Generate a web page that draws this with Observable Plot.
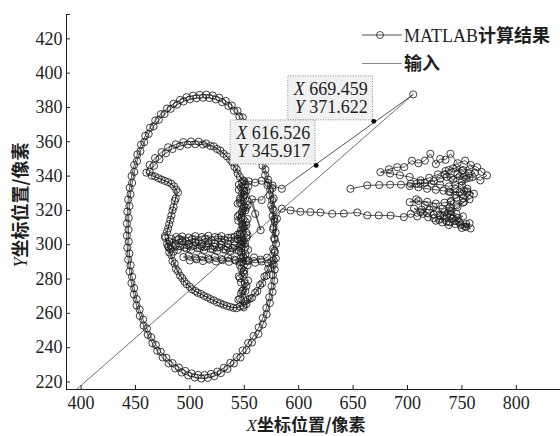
<!DOCTYPE html>
<html><head><meta charset="utf-8">
<script src="https://cdn.jsdelivr.net/npm/d3@7"></script>
<script src="https://cdn.jsdelivr.net/npm/@observablehq/plot@0.6"></script>
<style>
body{margin:0;background:#fff;}
#chart{width:560px;height:436px;}
</style>
</head><body><div id="chart"></div>
<script>
// ---- axis ticks & domain ----
const xTicks = [400, 450, 500, 550, 600, 650, 700, 750, 800];
const yTicks = [220, 240, 260, 280, 300, 320, 340, 360, 380, 400, 420];
const xDomain = [386.6, 840.6];
const yDomain = [215.6, 434.2];

// ---- input series ("输入") ----
const inputX = [396.5, 705.2];
const inputY = [216, 387.6];

// ---- data tips ----
const tipX = [669.459, 616.526];
const tipY = [371.622, 345.917];

// ---- MATLAB result trajectory, in drawing order ----
const segStart = [[705.2,387.6],[584.5,332.6],[576,334.5],[566,326],[557,326.5],[565,308.5],[560,318],[551,335]];
const segInnerArcA = [[546,339.5],[543,344],[539,348],[534,351.5],[528,354.8],[522,357.3],[515,359],[508,360],[501,360.2],[494,359.8],[487,358.5],[480,356.8],[474,354],[468,350.5],[463,346.5],[460,342]];
const segBranchA = [[465,340.2],[471,338.8],[477,337.2],[483,335.5],[487.5,332],[487,327],[485,322],[483,317],[481,312],[479,307.5]];
const segBandA = [[481,302],[487,300.5],[493,301.8],[499,299.8],[505,301.2],[511,299.2],[517,300.8],[523,298.8],[529,300.2],[535,298.2],[541,299.6],[547,298]];
const segVertA = [[549,293],[546,288],[550,283],[547,278],[551,273],[546,268.5],[549,264.5]];
const segLowerArcA = [[543,263],[537,263.8],[531,265],[525,266.5],[519,268.3],[513,270.2],[507,272],[502,274],[497,277],[493,280.5],[489,284.5],[486,289],[483,294],[480,299],[477.5,304]];
const segBandB = [[482,297.5],[489,297],[495,298.2],[501,296.8],[507,298],[513,296.5],[519,297.6],[525,296.2],[531,297.4],[537,295.8],[543,297],[548,301.5]];
const segVertB = [[546,306],[550,310.5],[547,315],[551,320],[546,324.5],[550,329],[547,333.5],[550,337]];
const segInnerArcB = [[544,341.5],[541,345.5],[537,349.5],[531,353],[525,355.8],[519,357.6],[512,358.4],[505,358.6],[498,358.4],[491,357.5],[484,355.8],[478,353.3],[472,349.8],[467,346],[463,342.5]];
const segBranchB = [[468,339.8],[474,338],[480,336.5],[485.5,334],[489,330.5],[486,325.5],[484,320],[482,314.5],[480,309.5],[477,305]];
const segLowerArcB = [[479,300.5],[481,295.5],[484,290.5],[487,286],[491,282],[495,278.5],[500,275.5],[505,273],[510,271.3],[516,269.3],[522,267.5],[528,265.8],[534,264.3],[540,263.2],[546,264]];
const segVertC = [[551,267],[547,271.5],[552,276],[546,280.5],[550,285],[545.5,290],[551,294.5],[546,299.5],[552,304],[547,308.5],[551.5,313],[545.5,317.5],[550,322],[546,327],[552,331.5],[548,336.5]];
const segVertD = [[545,332],[549,327.5],[553,323],[548,318.5],[544.5,314],[549,309.5],[553,305.5]];
const segBandD = [[547,300.5],[541,301.8],[535,300.5],[529,302],[523,300.6],[517,302],[511,300.4],[505,301.8],[499,300.5],[493,302.2],[487,299.5],[483,303.5],[487.5,304.5],[493,304.8],[499,304.2],[505,305],[511,304.5],[517,305.2],[523,304.5],[529,305],[535,304],[541,304.6],[547,303.8]];
const segBandC = [[544,303.5],[538,304.2],[532,302.8],[526,304],[520,302.5],[514,303.6],[508,302.2],[502,303.4],[496,302],[490,303.5],[484,301],[480.5,298.5],[485,296],[491,299],[497,297.8],[503,299.5],[509,298],[515,299.2],[521,297.5],[527,298.6],[533,297],[539,298.2],[545,296.5],[551,298.8]];
const segVertE = [[547,302.5],[552,307],[548,312],[544,316.5],[549,321],[553,325.5],[548,330],[545,335]];
const segVertF = [[550,331.5],[546.5,326],[551.5,321.5],[547.5,316],[552,311.5],[546,306.5],[550.5,301],[547,295.5],[552,290.5],[547.5,286],[545,281.5],[550.5,277.5],[548,273],[544.5,268],[549.5,263.5],[553,268],[549,273.5],[553.5,279],[549,284],[553,288],[549,292.5],[553.5,297],[549,301.5],[544,306],[548.5,311],[553,315],[548,319.5],[544,324],[549.5,329],[553.5,334],[549,337.5]];
const segBoxTop = [[554,337],[560,336.2],[566,337.3],[572,336],[576,333]];
const segBoxRight = [[577,327],[576,321],[577.5,315],[576.5,309],[578,303],[576.5,297.5]];
const segLowerBandA = [[571,292.5],[565,291.3],[559,292.6],[553,291],[547,292.4],[541,291.3],[535,292.7],[529,291.6],[523,293],[517,292],[511,293.3],[505,292.3],[499,293.6],[494,292.8]];
const segLowerBandB = [[500,290.8],[506,291.5],[512,290.5],[518,291.3],[524,290.2],[530,291],[536,290],[542,290.8],[548,289.8],[554,290.5],[560,289.5],[566,290.2],[572,289.3],[577,291]];
const segLowerRight = [[574,286.5],[570.5,282],[566.5,277.5],[562,273],[557,269],[552,265.5],[555,268.5],[560,272],[564.5,276.5],[568.5,281.5],[572,286],[575,290.5],[578,295.5]];
const segOuterA = [[579,292],[578,285.5],[577.5,279],[576,272.5],[573.5,266],[570.5,259.5],[567,253.5],[563,248],[557,243],[552,238.5],[546.5,234.3],[540.5,230.8],[534.5,227.6],[528.5,225.2],[522.5,223.4],[516.5,222.4],[510.5,222],[504.5,222.6],[498.5,223.8],[492.5,225.5],[486.5,227.9],[480.5,230.8],[475,234.3],[470,238.2],[465.5,242.6],[461.3,247.5],[457.5,252.8],[454,258.5],[451,264.6],[448.5,271],[446.3,277.6],[444.6,284.4],[443.3,291.3],[442.5,298.3],[442.1,305.3],[442.1,312.3],[442.5,319.3],[443.3,326.3],[444.6,333.2],[446.4,340],[448.8,346.5],[451.7,352.6],[455.1,358.3],[459,363.5],[463.4,368.2],[468.2,372.4],[473.4,376.1],[479,379.4],[485,382.2],[491,384.4],[497,386],[503,386.9],[509,387.3],[515,387.5],[521,387],[527,385.7],[533,383.8],[538.5,381.2],[543.8,378],[548.6,374.2],[553,370],[557,365.3],[560.6,360.3],[563.8,355],[566.8,349.5],[569.4,343.8],[571.8,338],[573.8,332],[575.6,326],[577,320],[578,313.5],[578.8,307],[579.2,300.5]];
const segOuterB = [[577.8,296.5],[577,288.5],[576.2,282.3],[575.1,275.8],[573,269.4],[570.3,263.1],[567,257.2],[563.3,251.8],[558.5,246.8],[553.6,242.7],[548.5,238.4],[543,234.5],[537.1,231.1],[531.2,228.2],[525.3,226],[519.4,224.7],[513.5,224],[507.5,224.1],[501.6,225],[495.8,226.4],[489.9,228.4],[484,231],[478.4,234.1],[473.2,237.6],[468.7,241.6],[464.4,246.1],[460.5,251.1],[457,256.4],[453.8,262.2],[451.1,268.3],[448.8,274.7],[446.9,281.3],[445.5,288],[444.4,294.9],[443.8,301.8],[443.6,308.7],[443.8,315.6],[444.4,322.5],[445.4,329.4],[446.9,336],[448.9,342.5],[451.4,348.8],[454.5,354.5],[458,359.8],[462.1,364.6],[466.6,369],[471.4,372.8],[476.7,376.2],[482.3,379.2],[488.2,381.6],[494.1,383.5],[500,384.7],[506,385.4],[512,385.7],[517.9,385.5],[523.8,384.7],[529.7,383.1],[535.4,380.9],[540.6,378.1],[545.5,374.7],[550,370.8],[554.1,366.5],[557.8,361.8],[561.1,356.8],[564.1,351.5],[566.8,346.1],[569.2,340.5],[571.3,334.7],[573.2,328.8],[574.8,322.9],[576,316.7],[576.9,310.2],[577.5,303.8]];
const segRightBranch = [[580,315.2],[584.5,321],[592.5,320],[601.6,319.2],[610.8,319],[620,318.8],[630.8,318],[641.5,318.2],[653.8,318.8],[663,317.1],[673.6,317.1],[684.4,317],[696.6,316.1]];
const segCluster = [[703,318],[709,316.5],[714,318],[719,316],[724,317.5],[729,314.5],[734,315.5],[739,313],[744,314],[749,311.5],[754,312],[758,309.5],[753,310.5],[747,313.5],[741,315],[737,318],[739,322],[740,325.5],[734,324.5],[726,324],[718,325],[710,325.5],[702,324.8],[708,326.5],[716,323],[724,322],[732,321],[739.5,324.8],[745,327.5],[750,329.5],[755,332.6],[761,329.7],[755,331],[748,330.5],[739.5,330.6],[733,331.5],[726,332],[718,332.6],[710,333.5],[702,334.2],[708,335.5],[716,336],[724,337],[730,338.5],[736,339.5],[742,338],[748,340],[754,338.5],[760,339.5],[767,337.5],[773,340.4],[768,342.5],[764,345.2],[758,346.5],[753,349],[746,347.5],[739.5,353],[735,349.5],[730,350],[726,347],[721,353],[716,349],[710,347.5],[704,349],[697,345.2],[690.5,345.2],[683,344],[675.1,342.3],[684,341.5],[693,340.5],[702,339.5],[712,337.5],[720,339],[728,341],[735,343],[742,344.5],[750,343],[756,341.5]];
const segClusterB = [[752,339.5],[746,341],[740,339],[734,341],[738,343.5],[745,345],[751,343.5],[757,344],[762,342],[757,339],[750,334.5],[744,332.5],[738,331],[744,329],[751,327],[757,326.5],[751,324.5],[745,323],[739,320],[745,318],[751,316.5],[746,315.5],[740,317.5],[734,319],[727,319.5],[720,320.5],[713,320.5],[706,321],[712,319],[718,318.5],[724,315.5],[730,317],[736,313.5],[742,315.5],[748,313],[754,310.5],[757,312.5],[750,309.8],[744,312],[738,311.5],[732,313],[726,314],[733,316.5],[740,319.5],[746,322],[752,325],[757,329],[752,331.5]];
const segClusterEnd = [[750,337],[744,335],[738,334],[730,335],[722,335.5],[712,336],[703,335.5],[694,335],[684,335],[674,334.8],[663,334.6],[647.6,332.6]];

const trajectory = [].concat(segStart, segInnerArcA, segBranchA, segBandA, segVertA, segLowerArcA,
  segBandB, segVertB, segInnerArcB, segBranchB, segLowerArcB, segVertC, segVertD, segBandD, segBandC, segVertE,
  segVertF, segBoxTop, segBoxRight, segLowerBandA, segLowerBandB, segLowerRight, segOuterA, segOuterB,
  segRightBranch, segCluster, segClusterB, segClusterEnd).map(([x, y]) => ({x, y}));
const inputPts = inputX.map((x, i) => ({x, y: inputY[i]}));

const W = 560, H = 436, mL = 66, mR = 0, mT = 14, mB = 47;
const ink = "#1e1e1e";

const plot = Plot.plot({
  width: W, height: H,
  marginLeft: mL, marginRight: mR, marginTop: mT, marginBottom: mB,
  style: {fontFamily: "'Liberation Serif', serif", fontSize: "18px", color: ink, background: "#fff"},
  x: {domain: xDomain, label: null},
  y: {domain: yDomain, label: null},
  marks: [
    Plot.axisX(xTicks, {tickSize: 0, tickPadding: 6.5, label: null}),
    Plot.axisY(yTicks, {tickSize: 0, tickPadding: 4, label: null}),
    Plot.tickX(xTicks, {x: d => d, insetTop: H - mT - mB - 4, stroke: ink}),
    Plot.tickY(yTicks.concat([yDomain[1]]), {y: d => d, insetRight: W - mL - mR - 4, stroke: ink}),
    Plot.ruleX([xDomain[0]], {stroke: ink}),
    Plot.ruleY([yDomain[0]], {stroke: ink}),
    Plot.line(inputPts, {x: "x", y: "y", stroke: "#333", strokeWidth: 0.7}),
    Plot.line(trajectory, {x: "x", y: "y", stroke: ink, strokeWidth: 0.75}),
    Plot.dot(trajectory, {x: "x", y: "y", r: 3.6, stroke: ink, strokeWidth: 0.85, fill: "none"})
  ]
});
document.getElementById("chart").appendChild(plot);

const svg = d3.select(plot);
const sx = plot.scale("x"), sy = plot.scale("y");
const CJK = "'Noto Sans CJK SC', sans-serif";
const SERIF = "'Liberation Serif', serif";

// data tips
tipX.forEach((tx, i) => {
  const px = sx.apply(tx), py = sy.apply(tipY[i]);
  const g = svg.append("g");
  const rect = g.append("rect");
  const t = g.append("text").attr("text-anchor", "end").style("font-family", SERIF).style("font-size", "18px").attr("fill", ink);
  const l1 = t.append("tspan").attr("x", px - 6).attr("y", py - 26.5);
  l1.append("tspan").style("font-style", "italic").text("X");
  l1.append("tspan").text(" " + tx.toFixed(3));
  const l2 = t.append("tspan").attr("x", px - 6).attr("y", py - 8);
  l2.append("tspan").style("font-style", "italic").text("Y");
  l2.append("tspan").text(" " + tipY[i].toFixed(3));
  const bb = t.node().getBBox();
  const left = bb.x - 5, right = px - 1.2, bottom = py - 1.5, top = bottom - 44;
  rect.attr("x", left).attr("y", top).attr("width", right - left).attr("height", bottom - top)
    .attr("fill", "#f1f1f1").attr("stroke", "#8a8a8a").attr("stroke-width", 1).attr("stroke-dasharray", "1,1.5");
  g.append("circle").attr("cx", px).attr("cy", py).attr("r", 2.4).attr("fill", "#000");
});

// legend
const lg = svg.append("g").attr("text-anchor", "start");
lg.append("line").attr("x1", 362).attr("x2", 402).attr("y1", 35).attr("y2", 35).attr("stroke", ink).attr("stroke-width", 0.8);
lg.append("circle").attr("cx", 380).attr("cy", 35).attr("r", 3.5).attr("fill", "none").attr("stroke", ink).attr("stroke-width", 0.8);
const lt1 = lg.append("text").attr("x", 404).attr("y", 41.5).attr("text-anchor", "start").style("font-size", "18px").attr("fill", ink);
lt1.append("tspan").style("font-family", SERIF).text("MATLAB");
lt1.append("tspan").style("font-family", CJK).style("font-weight", "bold").text("计算结果");
lg.append("line").attr("x1", 362).attr("x2", 402).attr("y1", 63.5).attr("y2", 63.5).attr("stroke", "#555").attr("stroke-width", 0.7);
lg.append("text").attr("x", 404).attr("y", 70).attr("text-anchor", "start").style("font-size", "18px").style("font-family", CJK).style("font-weight", "bold").attr("fill", ink).text("输入");

// axis titles
const xl = svg.append("text").attr("x", 306).attr("y", 431).attr("text-anchor", "middle").style("font-size", "17px").attr("fill", ink);
xl.append("tspan").style("font-family", SERIF).style("font-style", "italic").text("X");
xl.append("tspan").style("font-family", CJK).style("font-weight", "bold").text("坐标位置/像素");
const yl = svg.append("text").attr("transform", "translate(27,205) rotate(-90)").attr("text-anchor", "middle").style("font-size", "18px").attr("fill", ink);
yl.append("tspan").style("font-family", SERIF).style("font-style", "italic").text("Y");
yl.append("tspan").style("font-family", CJK).style("font-weight", "bold").text("坐标位置/像素");
</script>
</body></html>
